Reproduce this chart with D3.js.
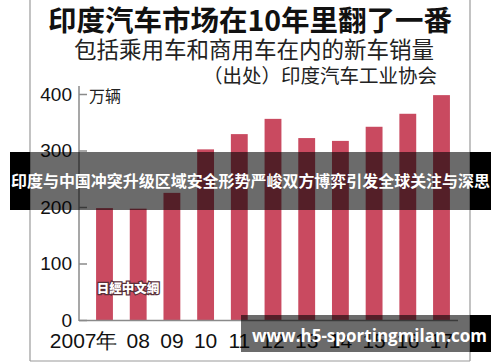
<!DOCTYPE html>
<html>
<head>
<meta charset="utf-8">
<script src="https://cdn.jsdelivr.net/npm/d3@7"></script>
<style>
  body { margin: 0; background: #fff; }
  svg { display: block; }
</style>
</head>
<body>
<svg id="chart" width="500" height="362"></svg>
<script>
// data (万辆)
var years = ["2007年", "08", "09", "10", "11", "12", "13", "14", "15", "16", "17"];
var sales = [198, 197, 225, 302, 329, 356, 322, 317, 342, 365, 398];
var yTicks = [0, 100, 200, 300, 400];

var svg = d3.select('#chart');
var cjk = '"Noto Sans CJK SC", "Noto Sans", sans-serif';

var x = d3.scaleBand().domain(years).range([87.65, 458.35])
  .paddingInner(0.5).paddingOuter(0.25);
var y = d3.scaleLinear().domain([0, 400]).range([320, 94]);

// frame
svg.append('line').attr('x1', 30).attr('x2', 30).attr('y1', 0).attr('y2', 361)
  .style('stroke', '#9a9a9a').style('stroke-width', 1.2);
svg.append('line').attr('x1', 470).attr('x2', 470).attr('y1', 0).attr('y2', 361)
  .style('stroke', '#9a9a9a').style('stroke-width', 1.2);
svg.append('line').attr('x1', 30).attr('x2', 470).attr('y1', 361).attr('y2', 361)
  .style('stroke', '#9a9a9a').style('stroke-width', 1.2);

// titles
svg.append('text').attr('x', 250).attr('y', 31).attr('text-anchor', 'middle')
  .style('font-family', cjk).style('font-weight', 700).style('font-size', '28.5px')
  .style('fill', '#111').text('印度汽车市场在10年里翻了一番');
svg.append('text').attr('x', 254).attr('y', 58).attr('text-anchor', 'middle')
  .style('font-family', cjk).style('font-size', '22.5px')
  .style('fill', '#222').text('包括乘用车和商用车在内的新车销量');
svg.append('text').attr('x', 437).attr('y', 83).attr('text-anchor', 'end')
  .style('font-family', cjk).style('font-size', '19.5px')
  .style('fill', '#222').text('（出处）印度汽车工业协会');

// bars
svg.append('g').selectAll('rect')
  .data(sales)
  .enter().append('rect')
    .attr('x', function(d, i) { return x(years[i]); })
    .attr('width', x.bandwidth())
    .attr('y', function(d) { return y(d); })
    .attr('height', function(d) { return y(0) - y(d); })
    .style('fill', '#c94a60');

// y axis
var ya = svg.append('g').attr('transform', 'translate(79,0)')
  .call(d3.axisLeft(y).tickValues(yTicks).tickSizeInner(-8).tickSizeOuter(0).tickPadding(7));
ya.select('.domain').remove();
ya.selectAll('line').style('stroke', '#8a8a8a').style('stroke-width', 1.5);
ya.selectAll('text').style('font-family', '"Liberation Sans", Arial, sans-serif')
  .style('font-size', '19px').style('fill', '#111');
svg.append('line').attr('x1', 79).attr('x2', 79).attr('y1', 86).attr('y2', 321)
  .style('stroke', '#8a8a8a').style('stroke-width', 1.5);
svg.append('text').attr('x', 89).attr('y', 102)
  .style('font-family', cjk).style('font-size', '16px').style('fill', '#222').text('万辆');

// x axis
svg.append('line').attr('x1', 79).attr('x2', 458).attr('y1', 320.5).attr('y2', 320.5)
  .style('stroke', '#8a8a8a').style('stroke-width', 1.5);
var xa = svg.append('g').attr('transform', 'translate(0,320)')
  .call(d3.axisBottom(x).tickSize(0).tickPadding(13));
xa.select('.domain').remove();
xa.selectAll('text')
  .style('font-family', '"Liberation Sans Narrow", "Arial Narrow", "Liberation Sans", sans-serif')
  .style('font-size', '21px').style('fill', '#111');
xa.selectAll('.tick').filter(function(d, i) { return i === 0; }).select('text')
  .attr('text-anchor', 'end').attr('x', 13);

// nikkei watermark
svg.append('text').attr('x', 128).attr('y', 293).attr('text-anchor', 'middle')
  .style('font-family', '"Noto Sans CJK TC", ' + cjk).style('font-weight', 900)
  .style('font-size', '12.5px').style('fill', '#fff')
  .style('stroke', '#5a3038').style('stroke-width', 2.5).style('paint-order', 'stroke')
  .text('日經中文網');

// headline banner
svg.append('rect').attr('x', 10).attr('y', 152).attr('width', 20).attr('height', 58).style('fill', '#000');
svg.append('rect').attr('x', 30).attr('y', 152).attr('width', 440).attr('height', 58)
  .style('fill', '#000').style('opacity', 0.58);
svg.append('rect').attr('x', 470).attr('y', 152).attr('width', 21).attr('height', 58).style('fill', '#000');
svg.append('text').attr('x', 11).attr('y', 187).attr('textLength', 479).attr('lengthAdjust', 'spacingAndGlyphs')
  .style('font-family', cjk).style('font-weight', 700).style('font-size', '15.5px')
  .style('fill', '#fff').text('印度与中国冲突升级区域安全形势严峻双方博弈引发全球关注与深思');

// site watermark
svg.append('rect').attr('x', 241).attr('y', 315).attr('width', 229).attr('height', 37)
  .style('fill', '#000').style('opacity', 0.58);
svg.append('rect').attr('x', 470).attr('y', 315).attr('width', 21).attr('height', 37).style('fill', '#000');
svg.append('text').attr('x', 252).attr('y', 342).attr('textLength', 235).attr('lengthAdjust', 'spacingAndGlyphs')
  .style('font-family', '"Open Sans", "DejaVu Sans", sans-serif').style('font-weight', 700)
  .style('font-size', '18.5px').style('fill', '#fff').text('www.h5-sportingmilan.com');
</script>
</body>
</html>
